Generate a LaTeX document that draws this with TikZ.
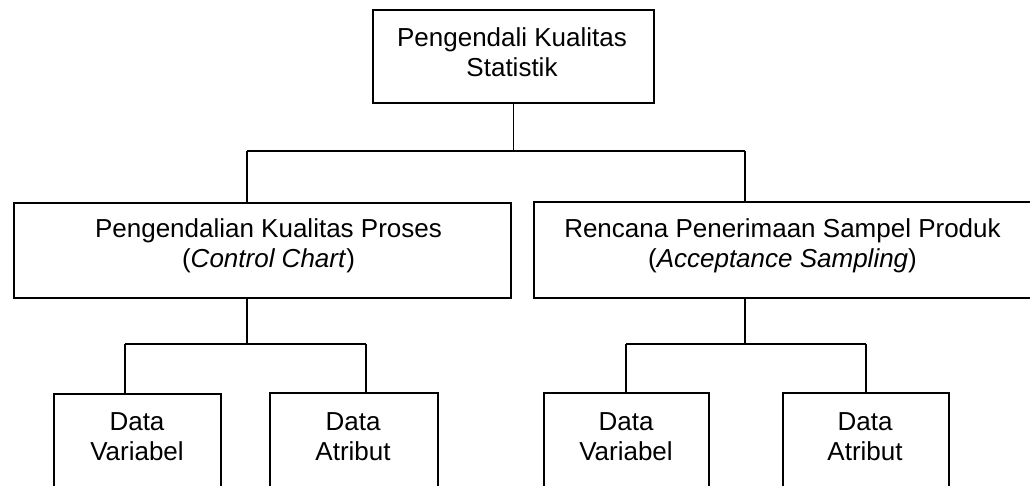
\documentclass[tikz,border=0pt]{standalone}
\usepackage{fontspec}
\setmainfont{Liberation Sans}
\begin{document}
\begin{tikzpicture}[x=1pt,y=-1pt,
  box/.style={draw=black, line width=1.6pt, rectangle, inner sep=0pt, anchor=north west},
  txt/.style={inner sep=0pt, anchor=north, align=center, font=\fontsize{26}{30.5}\selectfont},
  conn/.style={draw=black, line width=1.6pt}]
\useasboundingbox (0,0) rectangle (1030,486);
\clip (0,0) rectangle (1030,486);
\fill[white] (0,0) rectangle (1030,486);
% boxes
\node[box, minimum width=281, minimum height=93] (top) at (372,9) {};
\node[box, minimum width=497, minimum height=95] (pk) at (13,202) {};
\node[box, minimum width=498, minimum height=96] (rp) at (533,201) {};
\node[box, minimum width=167, minimum height=120] (dv1) at (53,393) {};
\node[box, minimum width=168, minimum height=120] (da1) at (269,392) {};
\node[box, minimum width=165, minimum height=120] (dv2) at (543,392) {};
\node[box, minimum width=166, minimum height=120] (da2) at (782,392) {};
% texts
\node[txt] (topT) at (512,27) {Pengendali Kualitas\\Statistik};
\node[txt] (pkT) at (268.5,218) {Pengendalian Kualitas Proses\\(\textit{Control Chart})};
\node[txt] (rpT) at (782.5,218) {Rencana Penerimaan Sampel Produk\\(\textit{Acceptance Sampling})};
\node[txt] (dv1T) at (137,412) {Data\\Variabel};
\node[txt] (da1T) at (353,412) {Data\\Atribut};
\node[txt] (dv2T) at (626,412) {Data\\Variabel};
\node[txt] (da2T) at (865,412) {Data\\Atribut};
% junctions
\coordinate (jl) at (247,151);
\coordinate (jr) at (745,151);
\coordinate (gl) at (247,344);
\coordinate (gl1) at (125,344);
\coordinate (gl2) at (366,344);
\coordinate (gr) at (745,344);
\coordinate (gr1) at (626,344);
\coordinate (gr2) at (866,344);
% connectors
\draw[conn] (top.south) -- (top.south |- jl);
\draw[conn] (jl) -- (jr);
\draw[conn] (jl) -- (jl |- pk.north);
\draw[conn] (jr) -- (jr |- rp.north);
\draw[conn] (gl |- pk.south) -- (gl);
\draw[conn] (gl1) -- (gl2);
\draw[conn] (gl1) -- (gl1 |- dv1.north);
\draw[conn] (gl2) -- (gl2 |- da1.north);
\draw[conn] (gr |- rp.south) -- (gr);
\draw[conn] (gr1) -- (gr2);
\draw[conn] (gr1) -- (gr1 |- dv2.north);
\draw[conn] (gr2) -- (gr2 |- da2.north);
\end{tikzpicture}
\end{document}
